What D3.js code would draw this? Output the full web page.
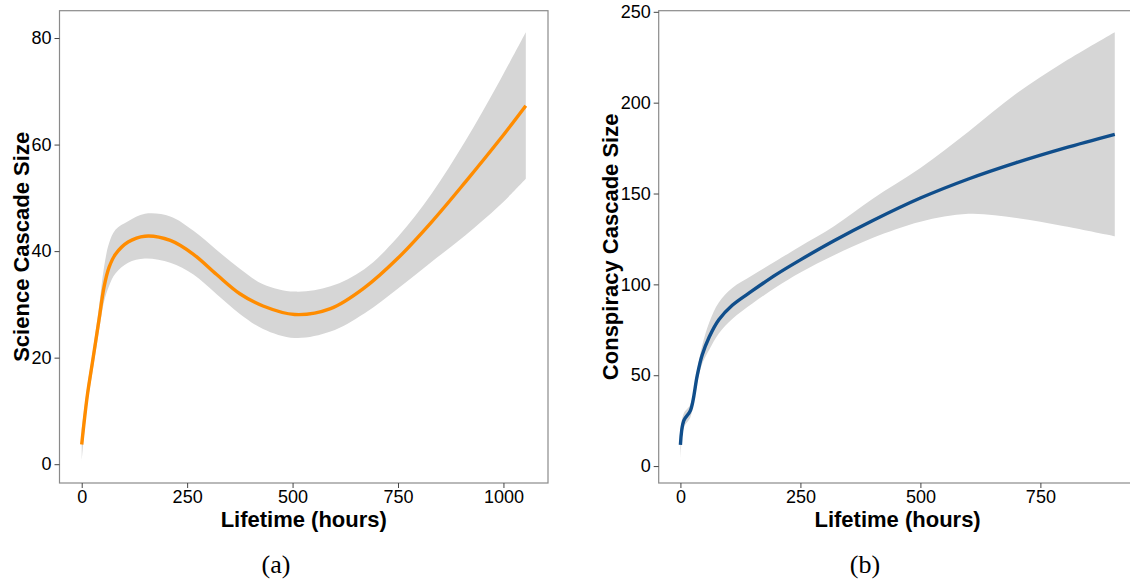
<!DOCTYPE html>
<html>
<head>
<meta charset="utf-8">
<script src="https://cdn.jsdelivr.net/npm/d3@7"></script>
<style>
  body { margin: 0; background: #fff; }
  svg { display: block; font-family: "Liberation Sans", Arial, sans-serif; }
  .tick text { font-size: 18px; fill: #000; }
  .axis-title { font-size: 22px; font-weight: bold; fill: #000; }
  .caption { font-family: "Liberation Serif", "DejaVu Serif", serif; font-size: 26px; fill: #000; }
</style>
</head>
<body>
<svg id="chart" width="1130" height="581"></svg>
<script>
const sciHours = [0, 13, 25, 41, 53, 65, 80, 110, 150, 210, 265, 320, 375, 430, 505, 590, 670, 750, 830, 910, 990, 1053]
const sciFit = [3.7, 12.7, 18.9, 27.1, 33.3, 37.0, 39.4, 41.7, 42.8, 42.0, 39.4, 35.6, 32.0, 29.7, 28.1, 29.2, 33.1, 38.7, 45.5, 53.0, 60.8, 67.3]
const sciUpper = [6.5, 14.5, 20.5, 29.5, 37.0, 41.5, 44.0, 45.6, 47.0, 46.5, 43.8, 40.2, 36.7, 33.8, 32.4, 33.4, 36.6, 42.7, 50.8, 60.7, 71.8, 81.1]
const sciLower = [0.5, 11.0, 17.0, 25.0, 30.5, 33.5, 35.8, 37.8, 38.6, 37.8, 35.6, 31.9, 28.2, 25.4, 23.7, 24.9, 28.3, 33.0, 38.0, 43.0, 48.5, 53.6]

const conHours = [0, 7, 21, 35, 45, 60, 80, 108, 150, 200, 250, 320, 400, 500, 600, 700, 800, 905]
const conFit = [11.7, 25.0, 30.6, 49.8, 60.8, 71.0, 80.5, 88.5, 96.5, 105.5, 113.5, 124.0, 135.0, 147.5, 158.0, 167.0, 175.0, 182.6]
const conUpper = [21.0, 29.0, 34.0, 53.0, 66.0, 79.0, 90.0, 98.0, 105.0, 113.0, 121.0, 132.0, 147.0, 164.0, 184.0, 205.0, 222.5, 238.8]
const conLower = [2.5, 21.0, 27.0, 46.0, 56.0, 64.0, 73.0, 81.0, 89.5, 98.5, 106.5, 116.0, 125.5, 134.5, 138.8, 136.5, 132.0, 126.5]

const sciXTicks = [0, 250, 500, 750, 1000]
const sciYTicks = [0, 20, 40, 60, 80]
const conXTicks = [0, 250, 500, 750]
const conYTicks = [0, 50, 100, 150, 200, 250]

const svg = d3.select('#chart')

function expand(lo, hi) {
  const pad = (hi - lo) * 0.05
  return [lo - pad, hi + pad]
}

function panel(opts) {
  const { left, right, top, bottom } = opts.box
  const data = opts.hours.map((h, i) => ({ h: h, fit: opts.fit[i], up: opts.upper[i], lo: opts.lower[i] }))

  const x = d3.scaleLinear()
    .domain(expand(d3.min(opts.hours), d3.max(opts.hours)))
    .range([left, right])
  const y = d3.scaleLinear()
    .domain(expand(d3.min(opts.lower), d3.max(opts.upper)))
    .range([bottom, top])

  const curve = d3.curveCatmullRom.alpha(0.5)
  const g = svg.append('g')

  g.append('path')
    .datum(data)
    .attr('fill', '#d6d6d6')
    .attr('d', d3.area()
      .x(d => x(d.h))
      .y0(d => y(d.lo))
      .y1(d => y(d.up))
      .curve(curve))

  g.append('path')
    .datum(data)
    .attr('fill', 'none')
    .attr('stroke', opts.color)
    .attr('stroke-width', 3.4)
    .attr('d', d3.line()
      .x(d => x(d.h))
      .y(d => y(d.fit))
      .curve(curve))

  g.append('rect')
    .attr('x', left)
    .attr('y', top)
    .attr('width', right - left)
    .attr('height', bottom - top)
    .attr('fill', 'none')
    .attr('stroke', '#8a8a8a')
    .attr('stroke-width', 1.2)

  const xAxis = g.append('g')
    .attr('transform', `translate(0,${bottom})`)
    .call(d3.axisBottom(x).tickValues(opts.xTicks).tickSize(5).tickPadding(2).tickFormat(d3.format('d')))
  xAxis.select('.domain').remove()
  xAxis.selectAll('.tick line').attr('stroke', '#444')

  const yAxis = g.append('g')
    .attr('transform', `translate(${left},0)`)
    .call(d3.axisLeft(y).tickValues(opts.yTicks).tickSize(5).tickPadding(3).tickFormat(d3.format('d')))
  yAxis.select('.domain').remove()
  yAxis.selectAll('.tick line').attr('stroke', '#444')

  g.append('text')
    .attr('class', 'axis-title')
    .attr('x', (left + right) / 2)
    .attr('y', 527)
    .attr('text-anchor', 'middle')
    .text('Lifetime (hours)')

  g.append('text')
    .attr('class', 'axis-title')
    .attr('transform', `translate(${opts.yTitleX},${(top + bottom) / 2}) rotate(-90)`)
    .attr('text-anchor', 'middle')
    .text(opts.yTitle)

  g.append('text')
    .attr('class', 'caption')
    .attr('x', opts.captionX)
    .attr('y', 573)
    .attr('text-anchor', 'middle')
    .text(opts.caption)
}

panel({
  box: { left: 59.5, right: 548, top: 10.7, bottom: 483 },
  hours: sciHours, fit: sciFit, upper: sciUpper, lower: sciLower,
  xTicks: sciXTicks, yTicks: sciYTicks,
  color: '#ff8c00',
  yTitle: 'Science Cascade Size', yTitleX: 29,
  caption: '(a)', captionX: 276
})

panel({
  box: { left: 658.7, right: 1136.5, top: 10.7, bottom: 483 },
  hours: conHours, fit: conFit, upper: conUpper, lower: conLower,
  xTicks: conXTicks, yTicks: conYTicks,
  color: '#104e8b',
  yTitle: 'Conspiracy Cascade Size', yTitleX: 618,
  caption: '(b)', captionX: 865
})
</script>
</body>
</html>
